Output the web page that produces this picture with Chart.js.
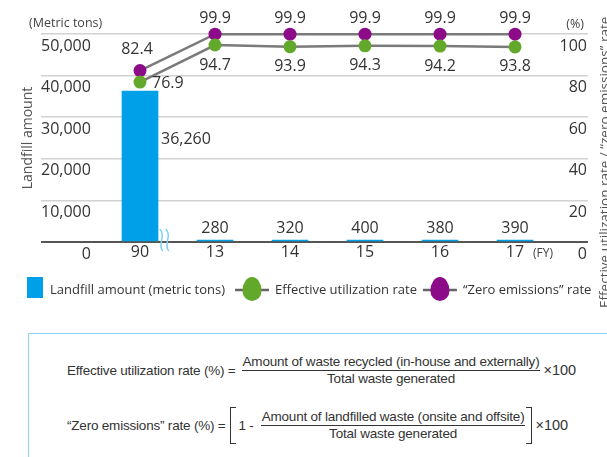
<!DOCTYPE html>
<html lang="en">
<head>
<meta charset="UTF-8">
<title>Landfill amount and utilization rates</title>
<script src="https://cdn.jsdelivr.net/npm/chart.js@4"></script>
<style>
body { margin: 0; width: 607px; height: 457px; overflow: hidden; background: #fff; position: relative; }
#chartBox { position: absolute; left: 0; top: 0; width: 607px; height: 310px; }
#formulaBox {
    position: absolute; left: 28px; top: 333px; width: 620px; height: 140px;
    border: 1.5px solid #8fd3f2; box-sizing: border-box;
    font-family: "Liberation Sans", Arial, sans-serif; font-size: 13.5px; color: #333; letter-spacing: -0.2px;
}
.row { position: absolute; height: 36px; display: flex; align-items: center; white-space: nowrap; }
.frac { display: inline-flex; flex-direction: column; align-items: center; }
.frac .num { border-bottom: 1px solid #333; padding: 0 1px 1px; line-height: 14px; }
.frac .den { line-height: 14px; padding-top: 1px; }
.times { font-size: 14.5px; letter-spacing: 0; }
.bracket { display: inline-block; width: 5px; height: 35px; border-top: 1.5px solid #333; border-bottom: 1.5px solid #333; }
.bracket.l { border-left: 1.5px solid #333; }
.bracket.r { border-right: 1.5px solid #333; }
</style>
</head>
<body>
<div id="chartBox"><canvas id="wasteChart"></canvas></div>
<div id="formulaBox">
    <div class="row" style="left:38px; top:18px;">
        <span>Effective utilization rate (%) =</span>
        <span class="frac" style="margin-left:6px;"><span class="num">Amount of waste recycled (in-house and externally)</span><span class="den">Total waste generated</span></span>
        <span class="times" style="margin-left:3px;">×100</span>
    </div>
    <div class="row" style="left:38px; top:73px;">
        <span>“Zero emissions” rate (%) =</span>
        <span class="bracket l" style="margin-left:4px;"></span>
        <span style="margin-left:3px;">1 -</span>
        <span class="frac" style="margin-left:7px;"><span class="num">Amount of landfilled waste (onsite and offsite)</span><span class="den">Total waste generated</span></span>
        <span class="bracket r" style="margin-left:1px;"></span>
        <span class="times" style="margin-left:3px;">×100</span>
    </div>
</div>
<script>
const fiscalYears = ['90', '13', '14', '15', '16', '17'];
const landfillAmount = [36260, 280, 320, 400, 380, 390];
const effectiveRate = [76.9, 94.7, 93.9, 94.3, 94.2, 93.8];
const zeroEmissionRate = [82.4, 99.9, 99.9, 99.9, 99.9, 99.9];
const amountTicks = [0, 10000, 20000, 30000, 40000, 50000];
const rateTicks = [0, 20, 40, 60, 80, 100];

const blue = '#00a0e9';
const green = '#62a82b';
const purple = '#8c0b89';
const lineGray = '#7a7a7a';
const textColor = '#333';
const FONT = '"Open Sans", sans-serif';

// egg shaped marker used in the legend
function drawEgg(ctx, cx, cy, color) {
    ctx.fillStyle = color;
    ctx.beginPath();
    ctx.ellipse(cx, cy + 2, 9.5, 10, 0, 0, Math.PI);
    ctx.ellipse(cx, cy + 2, 9.5, 14, 0, Math.PI, 2 * Math.PI);
    ctx.fill();
}

const decorations = {
    id: 'decorations',
    afterDatasetsDraw(chart) {
        const ctx = chart.ctx;
        ctx.save();
        ctx.font = '16px ' + FONT;
        ctx.fillStyle = textColor;
        ctx.textBaseline = 'middle';

        chart.getDatasetMeta(0).data.forEach((bar, i) => {
            const txt = landfillAmount[i].toLocaleString('en-US');
            if (i === 0) {
                ctx.textAlign = 'left';
                ctx.fillText(txt, bar.x + bar.width / 2 + 3, bar.y + 48);
            } else {
                ctx.textAlign = 'center';
                ctx.fillText(txt, bar.x, bar.y - 12);
            }
        });
        chart.getDatasetMeta(1).data.forEach((pt, i) => {
            ctx.textAlign = 'center';
            const txt = zeroEmissionRate[i].toFixed(1);
            if (i === 0) ctx.fillText(txt, pt.x - 3, pt.y - 21);
            else ctx.fillText(txt, pt.x, pt.y - 16);
        });
        chart.getDatasetMeta(2).data.forEach((pt, i) => {
            const txt = effectiveRate[i].toFixed(1);
            if (i === 0) {
                ctx.textAlign = 'left';
                ctx.fillText(txt, pt.x + 12, pt.y + 1);
            } else {
                ctx.textAlign = 'center';
                ctx.fillText(txt, pt.x, pt.y + 20);
            }
        });

        // axis break mark between 90 and 13
        const xs = chart.scales.x;
        const bx = xs.getPixelForValue(0.33);
        const by = chart.chartArea.bottom;
        ctx.strokeStyle = '#7fcff3';
        ctx.lineWidth = 1.5;
        [-3, 3].forEach(dx => {
            ctx.beginPath();
            ctx.moveTo(bx + dx - 2, by - 13);
            ctx.bezierCurveTo(bx + dx + 5, by - 6, bx + dx - 5, by + 2, bx + dx + 1, by + 9);
            ctx.stroke();
        });
        ctx.restore();
    },
    afterDraw(chart) {
        const ctx = chart.ctx;
        const area = chart.chartArea;
        ctx.save();
        ctx.fillStyle = '#444';
        ctx.textBaseline = 'middle';
        ctx.font = '12.5px ' + FONT;
        ctx.textAlign = 'left';
        ctx.fillText('(Metric tons)', 29, 23);
        ctx.textAlign = 'right';
        ctx.fillText('(%)', 584, 24);
        ctx.font = '12px ' + FONT;
        ctx.textAlign = 'left';
        ctx.fillText('(FY)', 533, area.bottom + 12);

        // right axis title, read bottom to top
        ctx.save();
        ctx.translate(608.5, 308);
        ctx.rotate(-Math.PI / 2);
        ctx.font = '13.5px ' + FONT;
        ctx.fillStyle = '#555';
        ctx.textAlign = 'left';
        ctx.textBaseline = 'alphabetic';
        ctx.fillText('Effective utilization rate / “zero emissions” rate', 0, 0);
        ctx.restore();

        // legend
        const ly = 290;
        ctx.font = '13px ' + FONT;
        ctx.fillStyle = blue;
        ctx.fillRect(27, 277, 16, 21);
        let x = 50;
        ctx.fillStyle = textColor;
        ctx.textAlign = 'left';
        ctx.fillText(chart.data.datasets[0].label, x, ly);
        x += ctx.measureText(chart.data.datasets[0].label).width + 10;
        [[2, green], [1, purple]].forEach(([idx, color]) => {
            ctx.strokeStyle = '#666';
            ctx.lineWidth = 2.5;
            ctx.beginPath();
            ctx.moveTo(x, ly);
            ctx.lineTo(x + 34, ly);
            ctx.stroke();
            drawEgg(ctx, x + 17, ly - 1, color);
            x += 40;
            ctx.fillStyle = textColor;
            const label = chart.data.datasets[idx].label;
            ctx.fillText(label, x, ly);
            x += ctx.measureText(label).width + 6;
        });
        ctx.restore();
    }
};

new Chart(document.getElementById('wasteChart'), {
    type: 'bar',
    data: {
        datasets: [
            {
                type: 'bar',
                label: 'Landfill amount (metric tons)',
                data: landfillAmount.map((v, i) => ({ x: i, y: v })),
                yAxisID: 'y',
                backgroundColor: blue,
                barThickness: 36,
                minBarLength: 2,
                order: 2
            },
            {
                type: 'line',
                label: '“Zero emissions” rate',
                data: zeroEmissionRate.map((v, i) => ({ x: i, y: v })),
                yAxisID: 'y1',
                borderColor: lineGray,
                borderWidth: 2.5,
                pointBackgroundColor: purple,
                pointBorderWidth: 0,
                pointRadius: 6.5,
                clip: false,
                order: 1
            },
            {
                type: 'line',
                label: 'Effective utilization rate',
                data: effectiveRate.map((v, i) => ({ x: i, y: v })),
                yAxisID: 'y1',
                borderColor: lineGray,
                borderWidth: 2.5,
                pointBackgroundColor: green,
                pointBorderWidth: 0,
                pointRadius: 6.5,
                clip: false,
                order: 0
            }
        ]
    },
    options: {
        responsive: true,
        maintainAspectRatio: false,
        animation: false,
        layout: { padding: { top: 34, left: 0, right: 0, bottom: 0 } },
        plugins: { legend: { display: false }, tooltip: { enabled: false } },
        scales: {
            x: {
                type: 'linear',
                min: -1.32,
                max: 5.973,
                offset: false,
                grid: { display: false, drawTicks: false, offset: false },
                border: { display: false },
                afterBuildTicks: (scale) => { scale.ticks = fiscalYears.map((_, i) => ({ value: i })); },
                afterFit: (scale) => { scale.height = 68; },
                ticks: {
                    callback: (v) => fiscalYears[v],
                    font: { family: FONT, size: 16 },
                    color: textColor,
                    padding: 1,
                    maxRotation: 0,
                    autoSkip: false
                }
            },
            y: {
                position: 'left',
                min: 0,
                max: 50000,
                afterBuildTicks: (scale) => { scale.ticks = amountTicks.map(v => ({ value: v })); },
                afterFit: (scale) => { scale.width = 41; },
                grid: {
                    drawTicks: false,
                    color: (c) => c.tick && c.tick.value === 0 ? '#555' : '#d2d2d2',
                    lineWidth: (c) => c.tick && c.tick.value === 0 ? 2 : 1.5
                },
                border: { display: false },
                title: {
                    display: true,
                    text: 'Landfill amount',
                    color: '#555',
                    font: { family: FONT, size: 14 },
                    padding: { top: 20, bottom: 0 }
                },
                ticks: {
                    mirror: true,
                    crossAlign: 'far',
                    padding: 0,
                    labelOffset: 12,
                    color: textColor,
                    font: { family: FONT, size: 16 },
                    callback: (v) => v.toLocaleString('en-US')
                }
            },
            y1: {
                position: 'right',
                min: 0,
                max: 100,
                afterBuildTicks: (scale) => { scale.ticks = rateTicks.map(v => ({ value: v })); },
                afterFit: (scale) => { scale.width = 19; },
                grid: { display: false, drawTicks: false },
                border: { display: false },
                ticks: {
                    mirror: true,
                    crossAlign: 'near',
                    padding: -1,
                    labelOffset: 12,
                    color: textColor,
                    font: { family: FONT, size: 16 }
                }
            }
        }
    },
    plugins: [decorations]
});
</script>
</body>
</html>
